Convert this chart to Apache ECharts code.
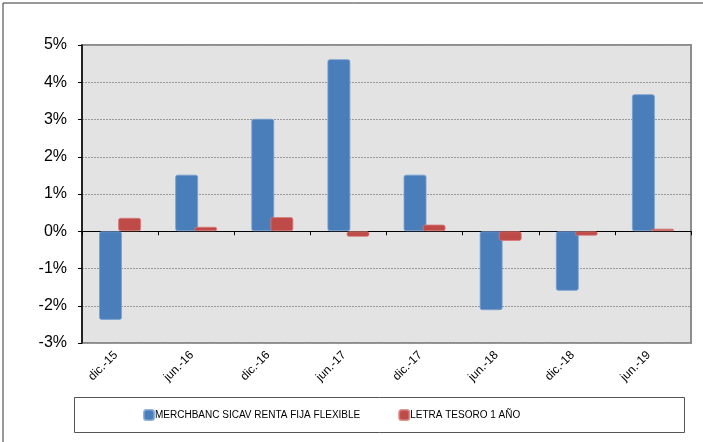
<!DOCTYPE html>
<html>
<head>
<meta charset="utf-8">
<script src="https://cdn.jsdelivr.net/npm/echarts@6/dist/echarts.min.js"></script>
<style>
  html, body { margin: 0; padding: 0; background: #fff; }
  #chart { width: 703px; height: 442px; }
</style>
</head>
<body>
<div id="chart"></div>
<script>
const categories = ["dic.-15", "jun.-16", "dic.-16", "jun.-17", "dic.-17", "jun.-18", "dic.-18", "jun.-19"];
const fundName = "MERCHBANC SICAV RENTA FIJA FLEXIBLE";
const fundValues = [-2.38, 1.52, 3.02, 4.62, 1.52, -2.12, -1.6, 3.68];
const letraName = "LETRA TESORO 1 AÑO";
const letraValues = [0.36, 0.12, 0.38, -0.15, 0.18, -0.26, -0.12, 0.07];

const chart = echarts.init(document.getElementById("chart"));
const font = "Liberation Sans, Arial, sans-serif";

const option = {
  animation: false,
  textStyle: { fontFamily: font },
  graphic: [
    {
      // outer frame (only top and left are visible)
      type: "rect",
      shape: { x: 3, y: 3, width: 900, height: 900 },
      style: { fill: "none", stroke: "#333", lineWidth: 1 },
      silent: true
    },
    {
      // legend box
      type: "rect",
      shape: { x: 74.5, y: 397.5, width: 610, height: 35 },
      style: { fill: "#fff", stroke: "#555", lineWidth: 1 },
      z: 0,
      silent: true
    }
  ],
  legend: {
    left: 138,
    top: 404,
    itemWidth: 10,
    itemHeight: 10,
    itemGap: 38,
    icon: "roundRect",
    textStyle: { fontSize: 10, color: "#000", fontFamily: font, padding: [0, 0, 0, -4] },
    data: [fundName, letraName]
  },
  grid: {
    left: 82,
    right: 12,
    top: 45,
    bottom: 99,
    show: true,
    backgroundColor: "#e3e3e3",
    borderColor: "#8c8c8c",
    borderWidth: 2
  },
  xAxis: [
    {
      type: "category",
      data: categories,
      axisLine: { onZero: true, lineStyle: { color: "#000", width: 1 } },
      axisTick: { show: true, length: 4, lineStyle: { color: "#000" } },
      axisLabel: { show: false },
      splitLine: { show: false }
    },
    {
      type: "category",
      data: categories,
      position: "bottom",
      axisLine: { show: false, onZero: false },
      axisTick: { show: false },
      axisLabel: { rotate: 45, fontSize: 12, color: "#000", margin: 6, padding: [0, 6, 0, 0], fontFamily: font },
      splitLine: { show: false }
    }
  ],
  yAxis: {
    type: "value",
    min: -3,
    max: 5,
    interval: 1,
    axisLine: { show: true, lineStyle: { color: "#000", width: 1.5 } },
    axisTick: { show: true, length: 4, lineStyle: { color: "#000" } },
    axisLabel: { formatter: "{value}%", fontSize: 16, color: "#000", margin: 15, fontFamily: font },
    splitLine: { show: true, lineStyle: { color: "#9a9a9a", type: [2, 1], width: 1 } }
  },
  series: [
    {
      name: fundName,
      type: "bar",
      xAxisIndex: 0,
      data: fundValues,
      barWidth: 23,
      barGap: "-17%",
      itemStyle: { color: "#4a7ebb", borderColor: "rgba(120,160,210,0.8)", borderWidth: 1, borderRadius: 2 }
    },
    {
      name: letraName,
      type: "bar",
      xAxisIndex: 0,
      data: letraValues,
      barWidth: 23,
      barGap: "-17%",
      itemStyle: { color: "#be4b48", borderColor: "rgba(215,120,118,0.8)", borderWidth: 1, borderRadius: 2 }
    }
  ]
};

chart.setOption(option);
</script>
</body>
</html>
